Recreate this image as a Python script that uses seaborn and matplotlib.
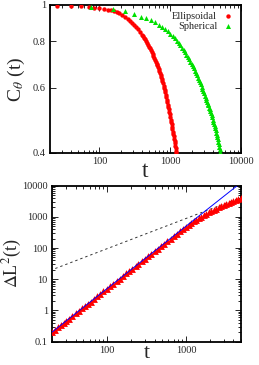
import numpy as np
import pandas as pd
import matplotlib
matplotlib.use("Agg")
import matplotlib.pyplot as plt
import seaborn as sns
from matplotlib.ticker import LogLocator, FixedLocator, FixedFormatter, NullFormatter

# ---------------- data ----------------
ell_t = [25, 40, 55, 70, 85, 100, 115, 130, 145, 160, 175, 190, 210, 230, 250, 270,
         290, 310, 330, 350, 375,
         400, 415, 430, 445, 460, 475, 490, 505, 520, 535, 550, 565, 580, 595, 610, 625,
         640, 655, 670, 685, 700, 715, 730, 745, 760, 775, 790, 805, 820, 835, 850, 865,
         880, 895, 910, 925, 940, 955, 970, 985, 1000, 1015, 1030, 1045, 1060, 1075,
         1090, 1105, 1120, 1135, 1150, 1165, 1180, 1195, 1210, 1225]
ell_c = [0.995, 0.993, 0.991, 0.988, 0.984, 0.980, 0.976, 0.971, 0.967, 0.962, 0.957,
         0.950, 0.940, 0.930, 0.918, 0.906, 0.894, 0.883, 0.872, 0.861, 0.847,
         0.833, 0.825, 0.816, 0.808, 0.799, 0.790, 0.782, 0.773, 0.765, 0.756, 0.748,
         0.739, 0.730, 0.721, 0.713, 0.704, 0.696, 0.688, 0.680, 0.672, 0.664, 0.656,
         0.648, 0.640, 0.632, 0.624, 0.616, 0.607, 0.599, 0.591, 0.582, 0.574, 0.565,
         0.557, 0.549, 0.540, 0.532, 0.524, 0.516, 0.508, 0.500, 0.492, 0.485, 0.478,
         0.470, 0.463, 0.456, 0.450, 0.444, 0.437, 0.431, 0.425, 0.419, 0.412, 0.406,
         0.400]

sph_t = [77, 154, 231, 308, 385, 462, 539, 616, 693, 770, 847, 924, 1001, 1078, 1155,
         1232, 1309, 1386, 1463, 1540, 1617, 1694, 1771, 1848, 1925, 2002, 2079, 2156,
         2233, 2310, 2387, 2464, 2541, 2618, 2695, 2772, 2849, 2926, 3003, 3080, 3157,
         3234, 3311, 3388, 3465, 3542, 3619, 3696, 3773, 3850, 3927, 4004, 4081, 4158,
         4235, 4312, 4389, 4466, 4543, 4620, 4697, 4774, 4851, 4928, 5005, 5082]
sph_c = [0.990, 0.978, 0.962, 0.946, 0.931, 0.920, 0.909, 0.898, 0.886, 0.874, 0.862,
         0.850, 0.838, 0.825, 0.813, 0.800, 0.790, 0.779, 0.768, 0.757, 0.746, 0.735,
         0.724, 0.714, 0.704, 0.694, 0.685, 0.675, 0.665, 0.656, 0.647, 0.638, 0.629,
         0.620, 0.612, 0.603, 0.595, 0.587, 0.579, 0.571, 0.564, 0.557, 0.550, 0.543,
         0.537, 0.530, 0.524, 0.518, 0.512, 0.505, 0.499, 0.492, 0.486, 0.479, 0.473,
         0.466, 0.460, 0.453, 0.447, 0.441, 0.435, 0.428, 0.422, 0.415, 0.409, 0.403]

msd_t = [20, 22, 24, 26, 28, 30, 33, 36, 40, 44, 48, 52, 57, 62, 68, 75, 82, 90, 100,
         110, 120, 132, 145, 160, 175, 190, 210, 230, 250, 275, 300, 330, 360, 400, 440,
         480, 530, 580, 640, 700, 770, 850, 930, 1000, 1080, 1160, 1250, 1350, 1450,
         1560, 1680, 1800, 1940, 2080, 2240, 2400, 2600, 2800, 3000, 3250, 3500, 3750,
         4000, 4300, 4600, 5000]
msd_v = [0.2, 0.24, 0.29, 0.34, 0.39, 0.45, 0.54, 0.65, 0.8, 0.97, 1.15, 1.35, 1.62,
         1.92, 2.31, 2.81, 3.36, 4.05, 5.0, 6.05, 7.2, 8.7, 10.5, 12.8, 15.3, 18.0, 22.0,
         26.4, 31, 37.8, 45, 54, 64, 79, 96, 114, 139, 166, 202, 240, 290, 350, 415, 490,
         565, 640, 720, 810, 900, 1000, 1110, 1230, 1390, 1530, 1680, 1840, 2020, 2200,
         2380, 2600, 2800, 3020, 3250, 3480, 3750, 4050]

fit2_t = [20, 5000]          # blue t^2 guide line
fit2_v = [0.2, 12500]
fit1_t = [22, 5000]          # dashed t^1 guide line
fit1_v = [22, 4200]

top_xticks = [100, 1000, 10000]
top_yticks = [0.4, 0.6, 0.8, 1.0]
top_ylabels = ["0.4", "0.6", "0.8", "1"]
bot_xticks = [100, 1000]
bot_yticks = [0.1, 1, 10, 100, 1000, 10000]
bot_ylabels = ["0.1", "1", "10", "100", "1000", "10000"]

# ---------------- style ----------------
sns.set_style("ticks")
plt.rcParams['font.family'] = ['Liberation Serif', 'DejaVu Serif']
plt.rcParams['mathtext.fontset'] = 'stix'

fig = plt.figure(figsize=(2.59, 3.65), dpi=100)
ax1 = fig.add_axes([50/259, 1-153/365, (241-50)/259, (153-5)/365])
ax2 = fig.add_axes([52/259, 1-341.5/365, (241-52)/259, (341.5-185.7)/365])

df_e = pd.DataFrame({"t": ell_t, "c": ell_c})
df_s = pd.DataFrame({"t": sph_t, "c": sph_c})
sns.scatterplot(data=df_e, x="t", y="c", ax=ax1, color="#ff0000", marker="o",
                s=10, linewidth=0, label="Ellipsoidal", zorder=3)
sns.scatterplot(data=df_s, x="t", y="c", ax=ax1, color="#00e000", marker="^",
                s=13, linewidth=0, label="Spherical", zorder=3)

ax1.set_xscale("log")
ax1.set_yscale("log")
ax1.set_xlim(20, 10000)
ax1.set_ylim(0.4, 1.0)

df_m = pd.DataFrame({"t": msd_t, "v": msd_v})
sns.lineplot(x=fit1_t, y=fit1_v, ax=ax2, color="#333333", linewidth=0.7,
             linestyle=(0, (2.5, 3)), zorder=2)
sns.scatterplot(data=df_m, x="t", y="v", ax=ax2, color="#ff0000", marker="^",
                s=24, linewidth=0, zorder=3)
sns.lineplot(x=fit2_t, y=fit2_v, ax=ax2, color="#0000ff", linewidth=0.7, zorder=4)
ax2.set_xscale("log")
ax2.set_yscale("log")
ax2.set_xlim(20, 5000)
ax2.set_ylim(0.1, 10000)

for ax in (ax1, ax2):
    for sp in ax.spines.values():
        sp.set_linewidth(1.3)
        sp.set_color("black")
    ax.tick_params(which="both", direction="in", top=True, right=True,
                   labelsize=7.5, pad=3, width=0.7)
    ax.tick_params(which="major", length=4)
    ax.tick_params(which="minor", length=2)

ax1.set_xlabel("t", fontsize=17, labelpad=-4)
ax2.set_xlabel("t", fontsize=16, labelpad=-8)

ax1.xaxis.set_major_locator(FixedLocator(top_xticks))
ax1.xaxis.set_major_formatter(FixedFormatter([str(v) for v in top_xticks]))
ax1.xaxis.set_minor_locator(LogLocator(base=10, subs=np.arange(2, 10)))
ax1.xaxis.set_minor_formatter(NullFormatter())
ax1.yaxis.set_major_locator(FixedLocator(top_yticks))
ax1.yaxis.set_major_formatter(FixedFormatter(top_ylabels))
ax1.yaxis.set_minor_locator(FixedLocator([]))
ax1.yaxis.set_minor_formatter(NullFormatter())
ax1.set_ylabel(r"C$_\theta$ (t)", fontsize=14, labelpad=4)

ax2.xaxis.set_major_locator(FixedLocator(bot_xticks))
ax2.xaxis.set_major_formatter(FixedFormatter([str(v) for v in bot_xticks]))
ax2.xaxis.set_minor_locator(LogLocator(base=10, subs=np.arange(2, 10)))
ax2.xaxis.set_minor_formatter(NullFormatter())
ax2.yaxis.set_major_locator(FixedLocator(bot_yticks))
ax2.yaxis.set_major_formatter(FixedFormatter(bot_ylabels))
ax2.yaxis.set_minor_locator(LogLocator(base=10, subs=np.arange(2, 10)))
ax2.yaxis.set_minor_formatter(NullFormatter())
ax2.set_ylabel(r"$\Delta$L$^2$(t)", fontsize=13)
ax2.yaxis.set_label_coords(-0.15, 0.5)

leg = ax1.legend(loc="upper right", frameon=False, fontsize=7.5, markerfirst=False,
                 handletextpad=0.5, borderaxespad=0.2, labelspacing=0.1,
                 markerscale=1.0, handlelength=1.2)

fig.savefig("out.png", dpi=100)
